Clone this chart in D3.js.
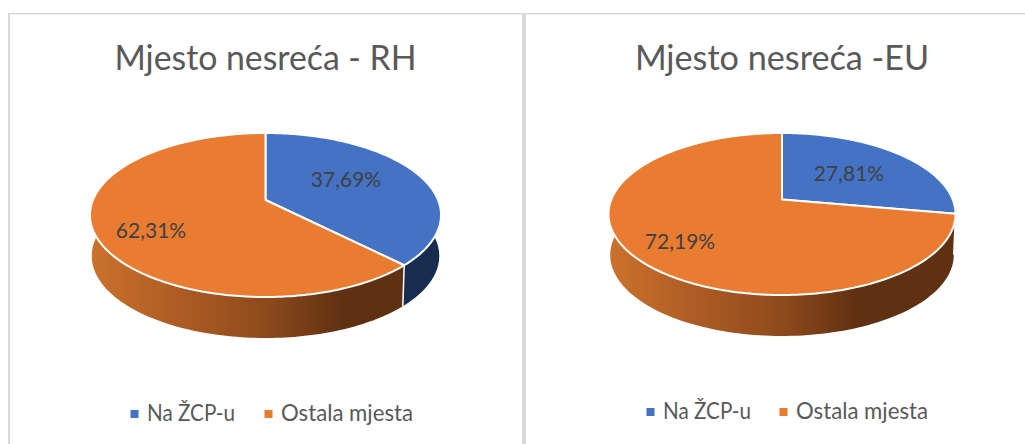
<!DOCTYPE html>
<html>
<head>
<meta charset="utf-8">
<script src="https://cdnjs.cloudflare.com/ajax/libs/d3/7.8.5/d3.min.js"></script>
<style>
  html, body { margin: 0; padding: 0; background: #fff; }
  svg { display: block; }
  text { font-family: Lato, "Open Sans", sans-serif; }
</style>
</head>
<body>
<svg id="chart" width="1025" height="444"></svg>
<script>
var categories = ["Na ŽCP-u", "Ostala mjesta"];
var titles = ["Mjesto nesreća - RH", "Mjesto nesreća -EU"];
var valuesRH = [37.69, 62.31];
var valuesEU = [27.81, 72.19];

var colors = ["#4472C4", "#EA7C32"];
var wallBlue = "#182C50";

var svg = d3.select("#chart");

// panel frames
svg.append("rect").attr("x", 8).attr("y", 13).attr("width", 1017).attr("height", 1.5).attr("fill", "#D9D9D9");
svg.append("rect").attr("x", 8).attr("y", 13).attr("width", 2).attr("height", 431).attr("fill", "#D9D9D9");
svg.append("rect").attr("x", 522).attr("y", 13).attr("width", 4).attr("height", 431).attr("fill", "#D9D9D9");

var defs = svg.append("defs");

function drawPie(values, title, opt, idx) {
  var g = svg.append("g");

  // tilted disc: a perspective projection so the apex sits above the ellipse centre
  var up = opt.cy - opt.top, down = opt.bottom - opt.cy;
  var ry = 2 / (1 / up + 1 / down);
  var k = ry / down - 1;
  var rx = opt.rx * Math.sqrt(1 - k * k);

  function project(a, dy, shrink) {
    var u = Math.sin(a), v = -Math.cos(a), w = 1 + k * v;
    return [opt.cx + shrink * rx * u / w, opt.cy + dy + ry * v / w];
  }

  var line = d3.line();
  var pie = d3.pie().sort(null);
  var arcs = pie(values);

  var gradId = "wall" + idx;
  var grad = defs.append("linearGradient").attr("id", gradId)
    .attr("gradientUnits", "userSpaceOnUse")
    .attr("x1", opt.cx - opt.rx).attr("x2", opt.cx + opt.rx).attr("y1", 0).attr("y2", 0);
  [[0, "#CB722C"], [0.25, "#AE5C24"], [0.5, "#8E4A1C"], [0.72, "#5F3012"], [1, "#5F3012"]].forEach(function (s) {
    grad.append("stop").attr("offset", s[0]).attr("stop-color", s[1]);
  });

  // only the front half of the rim shows
  var frontStart = Math.PI / 2 - 0.2, frontEnd = 3 * Math.PI / 2 + 0.2;
  arcs.forEach(function (d, i) {
    var a0 = Math.max(d.startAngle, frontStart), a1 = Math.min(d.endAngle, frontEnd);
    if (a1 <= a0) return;
    var angles = d3.range(0, 121).map(function (j) { return a0 + (a1 - a0) * j / 120; });
    var pts = angles.map(function (a) { return project(a, 0, 1); })
      .concat(angles.slice().reverse().map(function (a) { return project(a, opt.depth, 0.99); }));
    g.append("path").attr("d", line(pts) + "Z")
      .attr("fill", i === 0 ? wallBlue : "url(#" + gradId + ")");
  });
  // white seam on the rim between the two slices
  if (arcs[0].endAngle > frontStart) {
    var e = arcs[0].endAngle;
    g.append("path").attr("d", line([project(e, 0, 1), project(e, opt.depth, 0.99)]))
      .attr("stroke", "#fff").attr("stroke-width", 1.5).attr("fill", "none");
  }

  // top face
  arcs.forEach(function (d, i) {
    var angles = d3.range(0, 241).map(function (j) { return d.startAngle + (d.endAngle - d.startAngle) * j / 240; });
    var pts = [[opt.cx, opt.cy]].concat(angles.map(function (a) { return project(a, 0, 1); }));
    g.append("path").attr("d", line(pts) + "Z")
      .attr("fill", colors[i]).attr("stroke", "#fff").attr("stroke-width", 2).attr("stroke-linejoin", "round");
  });

  // data labels
  arcs.forEach(function (d, i) {
    g.append("text").attr("x", opt.labels[i][0]).attr("y", opt.labels[i][1])
      .attr("text-anchor", "middle").attr("font-size", 21).attr("fill", "#404040")
      .text(d3.format(".2f")(values[i]).replace(".", ",") + "%");
  });

  g.append("text").attr("x", opt.titleX).attr("y", 70)
    .attr("text-anchor", "middle").attr("font-size", opt.titleSize).attr("fill", "#595959").text(title);

  // legend, the first entry runs wide in this font so it is squeezed to the original width
  var leg = g.append("g");
  categories.forEach(function (c, i) {
    leg.append("rect").attr("x", opt.legend[i] - 16.5).attr("y", opt.legendY - 11).attr("width", 8).attr("height", 8).attr("fill", colors[i]);
    var t = leg.append("text").attr("x", opt.legend[i]).attr("y", opt.legendY).attr("font-size", 22.2).attr("fill", "#595959").text(c);
    if (i === 0) t.attr("textLength", 88).attr("lengthAdjust", "spacingAndGlyphs");
  });
}

drawPie(valuesRH, titles[0], {
  cx: 265.5, cy: 200, top: 133, bottom: 297, rx: 175.5, depth: 41,
  labels: [[346, 187], [151, 238]], titleX: 265.5, titleSize: 33.8, legend: [147, 281], legendY: 421
}, 0);
drawPie(valuesEU, titles[1], {
  cx: 782, cy: 199.5, top: 133, bottom: 295, rx: 173.5, depth: 41,
  labels: [[849, 181], [680, 249]], titleX: 782, titleSize: 34.2, legend: [663, 796], legendY: 419
}, 1);
</script>
</body>
</html>
